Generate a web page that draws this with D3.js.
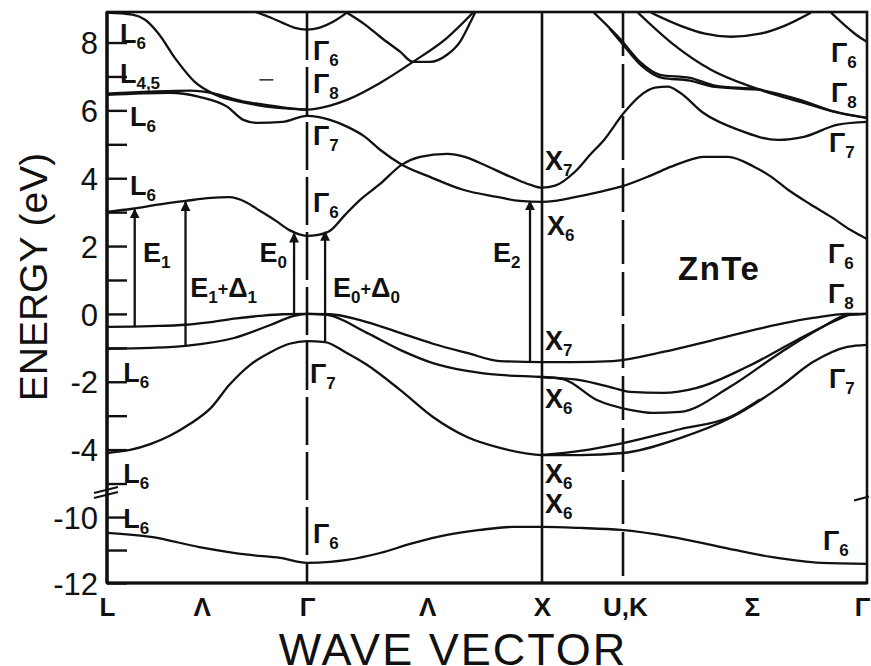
<!DOCTYPE html>
<html><head><meta charset="utf-8">
<script src="https://cdn.jsdelivr.net/npm/d3@7"></script>
<style>
body{margin:0;background:#fff;}
svg text{font-family:"Liberation Sans",Arial,Helvetica,sans-serif;fill:#111;}
</style></head><body>
<svg id="chart" width="871" height="666"></svg>
<script>
// ---- path through the Brillouin zone ----
const kNodes = [0, 0.866, 1.866, 2.22, 3.28];            // L, Γ, X, U/K, Γ
const symLabels = ["L", "Λ", "Γ", "Λ", "X", "U,K", "Σ", "Γ"];
const symK = [0, 0.41, 0.866, 1.377, 1.866, 2.228, 2.78, 3.28];

// ---- energy axis ticks (eV) ----
const upperMajor = [-4, -2, 0, 2, 4, 6, 8];
const upperMinor = [-5, -3, -1, 1, 3, 5, 7];
const lowerMajor = [-12, -10];
const lowerMinor = [-11];

// ---- bands: [k, E(eV)] ----
const bandL6Top = [[0,8.88],[0.11,8.82],[0.165,8.67],[0.22,8.29],[0.30,7.49],[0.38,6.84],[0.47,6.46],[0.60,6.22],[0.73,6.08],[0.866,6.02]];
const bandL45 = [[0,6.49],[0.19,6.55],[0.36,6.58],[0.47,6.49],[0.58,6.28],[0.71,6.14],[0.866,6.02],[0.964,6.14],[1.036,6.31],[1.177,6.81],[1.317,7.43],[1.462,8.14],[1.572,8.88]];
const bandGammaTop = [[0.64,8.91],[0.71,8.73],[0.76,8.58],[0.81,8.44],[0.866,8.38],[0.921,8.44],[0.977,8.61],[1.036,8.88]];
const bandDeltaV = [[1.036,8.88],[1.113,8.53],[1.177,8.17],[1.262,7.73],[1.317,7.43],[1.389,7.43],[1.462,7.64],[1.517,8.02],[1.560,8.58],[1.581,8.88]];
const bandC3 = [[0,6.46],[0.27,6.52],[0.40,6.40],[0.52,6.11],[0.59,5.72],[0.65,5.63],[0.76,5.66],[0.866,5.84],[0.964,5.72],[1.036,5.52],[1.113,5.22],[1.177,4.84],[1.270,4.40],[1.389,4.04],[1.530,3.66],[1.675,3.45],[1.771,3.33],[1.866,3.30],[1.923,3.33],[1.993,3.42],[2.119,3.60],[2.211,3.75],[2.337,4.07],[2.429,4.34],[2.511,4.54],[2.568,4.63],[2.676,4.63],[2.789,4.34],[2.858,4.07],[2.937,3.66],[3.032,3.24],[3.124,2.86],[3.207,2.48],[3.28,2.21]];
const bandC1 = [[0,3.01],[0.11,3.10],[0.22,3.22],[0.34,3.33],[0.45,3.42],[0.53,3.44],[0.60,3.30],[0.66,3.05],[0.73,2.75],[0.79,2.47],[0.836,2.34],[0.866,2.30],[0.913,2.33],[0.964,2.45],[1.028,2.92],[1.092,3.36],[1.177,3.83],[1.270,4.40],[1.347,4.63],[1.462,4.72],[1.538,4.63],[1.602,4.45],[1.743,4.01],[1.815,3.81],[1.866,3.72],[1.923,3.78],[2.010,4.19],[2.076,4.69],[2.137,5.13],[2.224,5.93],[2.294,6.43],[2.359,6.67],[2.415,6.70],[2.468,6.52],[2.568,5.93],[2.720,5.43],[2.893,5.13],[3.006,5.22],[3.154,5.58],[3.28,5.66]];
const bandKA1 = [[2.093,8.88],[2.211,8.08],[2.294,7.43],[2.381,7.05],[2.511,6.96],[2.620,6.73],[2.815,6.61],[2.989,6.31],[3.141,5.96],[3.28,5.78]];
const bandKA1b = [[2.16,8.42],[2.22,7.94],[2.30,7.32],[2.39,6.96],[2.51,6.88],[2.62,6.69],[2.815,6.61]];
const bandKA2 = [[2.285,8.88],[2.429,8.00],[2.602,7.20],[2.789,6.67],[3.006,6.22],[3.154,5.93],[3.28,5.78]];
const bandKU = [[2.342,8.88],[2.468,8.50],[2.576,8.26],[2.689,8.17],[2.815,8.26],[2.924,8.50],[3.036,8.88]];
const bandKG6 = [[3.124,8.88],[3.185,8.50],[3.233,8.23],[3.28,8.02]];

const bandV1 = [[0,-0.38],[0.19,-0.36],[0.34,-0.32],[0.45,-0.24],[0.55,-0.14],[0.66,-0.06],[0.76,-0.01],[0.866,0],[0.964,-0.01],[1.092,-0.18],[1.262,-0.56],[1.402,-0.88],[1.547,-1.15],[1.687,-1.39],[1.866,-1.42],[1.993,-1.42],[2.176,-1.39],[2.394,-1.12],[2.611,-0.77],[2.828,-0.41],[3.045,-0.12],[3.194,0],[3.28,0]];
const bandV2 = [[0,-1.03],[0.19,-1.00],[0.34,-0.94],[0.55,-0.71],[0.71,-0.32],[0.81,-0.06],[0.866,0],[0.951,-0.03],[1.121,-0.56],[1.262,-1.06],[1.402,-1.45],[1.547,-1.68],[1.687,-1.80],[1.866,-1.86],[2.032,-1.95],[2.176,-2.18],[2.250,-2.30],[2.394,-2.33],[2.541,-2.18],[2.759,-1.56],[2.977,-0.77],[3.150,-0.18],[3.207,-0.03],[3.28,0]];
const bandV3 = [[1.866,-1.86],[1.958,-1.92],[2.106,-2.54],[2.250,-2.83],[2.350,-2.92],[2.468,-2.89],[2.685,-2.15],[2.902,-1.15],[3.089,-0.38],[3.194,-0.03],[3.28,0]];
const bandV4 = [[0,-4.10],[0.10,-4.01],[0.19,-3.83],[0.27,-3.60],[0.36,-3.24],[0.45,-2.77],[0.53,-2.09],[0.62,-1.50],[0.71,-1.12],[0.79,-0.88],[0.866,-0.80],[0.943,-0.83],[1.028,-1.12],[1.121,-1.50],[1.262,-2.24],[1.402,-3.04],[1.547,-3.63],[1.687,-3.95],[1.866,-4.16],[2.032,-4.16],[2.220,-4.10],[2.468,-3.66],[2.685,-3.07],[2.902,-2.15],[3.045,-1.42],[3.194,-0.97],[3.28,-0.91]];
const bandV4b = [[1.866,-4.16],[2.032,-4.04],[2.220,-3.81],[2.468,-3.40],[2.685,-3.04],[2.815,-2.52]];
const bandS = [[0,-10.48],[0.19,-10.60],[0.40,-10.91],[0.62,-11.15],[0.75,-11.24],[0.866,-11.39],[0.964,-11.36],[1.036,-11.30],[1.177,-11.09],[1.317,-10.79],[1.462,-10.54],[1.602,-10.39],[1.743,-10.30],[1.866,-10.30],[2.032,-10.33],[2.211,-10.39],[2.429,-10.60],[2.646,-10.91],[2.863,-11.21],[3.080,-11.39],[3.28,-11.42]];

const upperBands = [bandL6Top, bandL45, bandGammaTop, bandDeltaV, bandC3, bandC1, bandKA1, bandKA1b, bandKA2, bandKU, bandKG6, bandV1, bandV2, bandV3, bandV4, bandV4b];
const lowerBands = [bandS];

// ---- optical transitions: k, initial E, final E ----
const transK    = [0.12, 0.34, 0.81, 0.943, 1.815];
const transFrom = [-0.37, -0.94, -0.01, -0.83, -1.41];
const transTo   = [3.08, 3.30, 2.37, 2.42, 3.32];

// ---- labels: parts [text, style], k, E, panel  (style 0 normal, 1 subscript, 2 small sign) ----
const labels = [
  [[["L",0],["6",1]], 0.056, 8.0, "up"],
  [[["L",0],["4,5",1]], 0.056, 6.81, "up"],
  [[["L",0],["6",1]], 0.10, 5.55, "up"],
  [[["L",0],["6",1]], 0.10, 3.51, "up"],
  [[["E",0],["1",1]], 0.156, 1.53, "up"],
  [[["E",0],["1",1],["+",2],["Δ",0],["1",1]], 0.36, 0.50, "up"],
  [[["E",0],["0",1]], 0.66, 1.53, "up"],
  [[["L",0],["6",1]], 0.07, -2.01, "up"],
  [[["L",0],["6",1]], 0.07, -4.99, "up"],
  [[["L",0],["6",1]], 0.07, -10.33, "lo"],
  [[["Γ",0],["6",1]], 0.892, 7.49, "up"],
  [[["Γ",0],["8",1]], 0.892, 6.52, "up"],
  [[["Γ",0],["7",1]], 0.892, 4.99, "up"],
  [[["Γ",0],["6",1]], 0.892, 3.01, "up"],
  [[["E",0],["0",1],["+",2],["Δ",0],["0",1]], 0.977, 0.50, "up"],
  [[["Γ",0],["7",1]], 0.879, -2.04, "up"],
  [[["Γ",0],["6",1]], 0.892, -10.79, "lo"],
  [[["X",0],["7",1]], 1.879, 4.25, "up"],
  [[["X",0],["6",1]], 1.888, 2.33, "up"],
  [[["E",0],["2",1]], 1.657, 1.53, "up"],
  [[["X",0],["7",1]], 1.879, -1.06, "up"],
  [[["X",0],["6",1]], 1.879, -2.77, "up"],
  [[["X",0],["6",1]], 1.879, -4.99, "up"],
  [[["X",0],["6",1]], 1.879, -9.88, "lo"],
  [[["Γ",0],["6",1]], 3.124, 7.43, "up"],
  [[["Γ",0],["8",1]], 3.124, 6.25, "up"],
  [[["Γ",0],["7",1]], 3.115, 4.78, "up"],
  [[["Γ",0],["6",1]], 3.111, 1.50, "up"],
  [[["Γ",0],["8",1]], 3.111, 0.32, "up"],
  [[["Γ",0],["7",1]], 3.115, -2.18, "up"],
  [[["Γ",0],["6",1]], 3.089, -11.0, "lo"]
];
const materialName = "ZnTe";
const materialPos = [2.459, 1.0];
const strayMark = [[0.66, 6.9], [0.72, 6.9]];

// ---- scales ----
const svg = d3.select("#chart");
const x = d3.scaleLinear().domain(kNodes).range([107, 307, 542, 623, 867]);
const yUp = d3.scaleLinear().domain([-5.25, 8.9]).range([492, 12]);
const yLo = d3.scaleLinear().domain([-12, -9.27]).range([583, 493]);
const pL = 107, pR = 867, pT = 12, pB = 583;

const defs = svg.append("defs");
defs.append("clipPath").attr("id", "clipUp").append("rect")
  .attr("x", pL).attr("y", pT).attr("width", pR - pL).attr("height", yUp(-5.25) - pT);
defs.append("clipPath").attr("id", "clipLo").append("rect")
  .attr("x", pL).attr("y", yLo(-9.27)).attr("width", pR - pL).attr("height", pB - yLo(-9.27));
defs.append("marker").attr("id", "head").attr("viewBox", "0 0 10 10")
  .attr("refX", 9).attr("refY", 5).attr("markerWidth", 10).attr("markerHeight", 10)
  .attr("markerUnits", "userSpaceOnUse").attr("orient", "auto")
  .append("path").attr("d", "M0,0 L10,5 L0,10 z").attr("fill", "#111");

const lineUp = d3.line().x(d => x(d[0])).y(d => yUp(d[1])).curve(d3.curveMonotoneX);
const lineLo = d3.line().x(d => x(d[0])).y(d => yLo(d[1])).curve(d3.curveMonotoneX);

// symmetry-point verticals
const vlines = svg.append("g").attr("stroke", "#111").attr("stroke-width", 2.6);
vlines.append("line").attr("x1", x(0.866)).attr("x2", x(0.866)).attr("y1", pT).attr("y2", pB).attr("stroke-dasharray", "48,7");
vlines.append("line").attr("x1", x(1.866)).attr("x2", x(1.866)).attr("y1", pT).attr("y2", pB);
vlines.append("line").attr("x1", x(2.22)).attr("x2", x(2.22)).attr("y1", pT).attr("y2", pB).attr("stroke-dasharray", "44,8");

// bands
svg.append("g").attr("clip-path", "url(#clipUp)").selectAll("path").data(upperBands).join("path")
  .attr("d", lineUp).attr("fill", "none").attr("stroke", "#111").attr("stroke-width", 2.3).attr("stroke-linejoin", "round");
svg.append("g").attr("clip-path", "url(#clipLo)").selectAll("path").data(lowerBands).join("path")
  .attr("d", lineLo).attr("fill", "none").attr("stroke", "#111").attr("stroke-width", 2.3);
svg.append("path").attr("d", d3.line().x(d => x(d[0])).y(d => yUp(d[1]))(strayMark))
  .attr("stroke", "#333").attr("stroke-width", 1.6);

// transitions
svg.append("g").selectAll("line").data(transK).join("line")
  .attr("x1", d => x(d)).attr("x2", d => x(d))
  .attr("y1", (d, i) => yUp(transFrom[i])).attr("y2", (d, i) => yUp(transTo[i]))
  .attr("stroke", "#111").attr("stroke-width", 2.3).attr("marker-end", "url(#head)");

// frame
svg.append("rect").attr("x", pL).attr("y", pT).attr("width", pR - pL).attr("height", pB - pT)
  .attr("fill", "none").attr("stroke", "#111").attr("stroke-width", 2.6);
svg.append("line").attr("x1", pL).attr("x2", pL).attr("y1", pT).attr("y2", pB).attr("stroke", "#111").attr("stroke-width", 3.4);
svg.append("line").attr("x1", pL).attr("x2", pR).attr("y1", pB).attr("y2", pB).attr("stroke", "#111").attr("stroke-width", 3.2);

// axis break marks
const brk = svg.append("g").attr("stroke", "#111").attr("stroke-width", 2.2).attr("fill", "none");
const brkY = (yUp(-5.25) + yLo(-9.27)) / 2;
[-2.5, 2.5].forEach(off => {
  brk.append("line").attr("x1", pL - 13).attr("y1", brkY + off + 3).attr("x2", pL + 11).attr("y2", brkY + off - 3);
});
brk.append("line").attr("x1", pR - 13).attr("y1", brkY + 8).attr("x2", pR + 2).attr("y2", brkY + 4);

// energy axes (ticks point into the plot)
function energyAxis(scale, major, minor) {
  const g = svg.append("g").attr("transform", `translate(${pL},0)`);
  g.call(d3.axisLeft(scale).tickValues(major).tickSizeInner(-20).tickSizeOuter(0).tickPadding(9)
    .tickFormat(d => String(d)));
  g.append("g").call(d3.axisLeft(scale).tickValues(minor).tickSizeInner(-20).tickSizeOuter(0).tickFormat(""));
  g.selectAll(".domain").remove();
  g.selectAll("line").attr("stroke", "#111").attr("stroke-width", 2.4);
  g.selectAll("text").attr("font-size", 31).attr("fill", "#111").attr("dy", "0.36em");
}
energyAxis(yUp, upperMajor, upperMinor);
energyAxis(yLo, lowerMajor, lowerMinor);

// wave-vector axis
const xa = svg.append("g").attr("transform", `translate(0,${pB})`)
  .call(d3.axisBottom(x).tickValues(symK).tickFormat((d, i) => symLabels[i]).tickSize(0).tickPadding(15));
xa.select(".domain").remove();
xa.selectAll("text").attr("font-size", 26).attr("font-weight", "bold").attr("fill", "#111")
  .attr("dx", (d, i) => i === symK.length - 1 ? -5 : 0);

// axis titles
svg.append("text").attr("transform", "translate(47,277) rotate(-90)").attr("text-anchor", "middle")
  .attr("font-size", 39).text("ENERGY (eV)");
svg.append("text").attr("x", 453).attr("y", 665).attr("text-anchor", "middle")
  .attr("font-size", 45).attr("letter-spacing", 2).text("WAVE VECTOR");

// state labels
const lab = svg.append("g");
const partSize = [27, 17, 18];
labels.forEach(([parts, k, e, panel]) => {
  const t = lab.append("text").attr("x", x(k)).attr("y", (panel === "lo" ? yLo : yUp)(e))
    .attr("font-weight", "bold");
  let shift = 0;
  parts.forEach(([s, style]) => {
    const want = style === 1 ? 6 : style === 2 ? -2 : 0;
    t.append("tspan").text(s).attr("font-size", partSize[style]).attr("dy", want - shift);
    shift = want;
  });
});
svg.append("text").attr("x", x(materialPos[0])).attr("y", yUp(materialPos[1]))
  .attr("font-size", 33).attr("font-weight", "bold").attr("letter-spacing", 1.5).text(materialName);
</script>
</body></html>
